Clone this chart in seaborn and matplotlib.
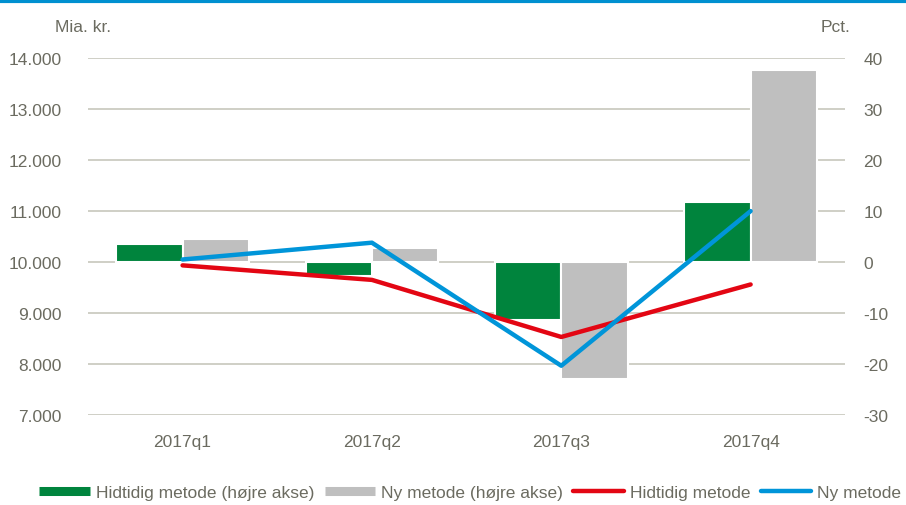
import pandas as pd
import seaborn as sns
import matplotlib.pyplot as plt
from matplotlib.lines import Line2D
from matplotlib.ticker import FuncFormatter

# data
quarters = ['2017q1', '2017q2', '2017q3', '2017q4']
bar_old = [3.6, -2.7, -11.4, 11.8]       # Hidtidig metode (højre akse), pct.
bar_new = [4.6, 2.7, -22.9, 37.6]        # Ny metode (højre akse), pct.
line_old = [9935, 9650, 8530, 9560]      # Hidtidig metode, mia. kr.
line_new = [10050, 10380, 7965, 11000]   # Ny metode, mia. kr.

green = '#00843d'
grey = '#bfbfbf'
red = '#e30613'
blue = '#0095d9'
txt = '#6b6b60'

bars = pd.DataFrame({
    'kvartal': quarters * 2,
    'metode': ['Hidtidig metode (højre akse)'] * 4 + ['Ny metode (højre akse)'] * 4,
    'pct': bar_old + bar_new,
})
lines = pd.DataFrame({
    'kvartal': quarters * 2,
    'metode': ['Hidtidig metode'] * 4 + ['Ny metode'] * 4,
    'mia': line_old + line_new,
})

sns.set_style('white')
plt.rcParams['font.family'] = ['Liberation Sans', 'DejaVu Sans']
plt.rcParams['font.size'] = 12.5
plt.rcParams['axes.unicode_minus'] = False

fig = plt.figure(figsize=(9.06, 5.06), dpi=100)
ax = fig.add_axes([0.097, 0.178, 0.836, 0.705])
ax2 = ax.twinx()

# bars on the right axis, drawn underneath the lines
sns.barplot(data=bars, x='kvartal', y='pct', hue='metode', ax=ax2,
            palette=[green, grey], saturation=1, width=0.7,
            edgecolor='white', linewidth=1.5, legend=False)
ax2.set_ylim(-30, 40)
ax2.set_yticks(range(-30, 41, 10))
ax2.yaxis.grid(True, color='#cfcfc6', linewidth=1.4)
ax2.set_axisbelow(True)

sns.lineplot(data=lines, x='kvartal', y='mia', hue='metode', ax=ax,
             palette=[red, blue], linewidth=3.2, errorbar=None, legend=False)
ax.set_ylim(7000, 14000)
ax.set_yticks(range(7000, 14001, 1000))
ax.yaxis.set_major_formatter(FuncFormatter(lambda v, p: f'{v:,.0f}'.replace(',', '.')))
ax.set_xlim(-0.5, 3.5)
ax.set_zorder(ax2.get_zorder() + 1)
ax.patch.set_visible(False)

for a in (ax, ax2):
    for s in a.spines.values():
        s.set_visible(False)
    a.tick_params(length=0, colors=txt, labelsize=12.5)
    a.set_xlabel('')
    a.set_ylabel('')
ax.tick_params(axis='y', pad=19)
ax2.tick_params(axis='y', pad=13)
ax.tick_params(axis='x', pad=14)

fig.text(0.061, 0.945, 'Mia. kr.', color=txt, fontsize=12.5, va='center')
fig.text(0.906, 0.945, 'Pct.', color=txt, fontsize=12.5, va='center')

# blue rule along the top edge
fig.add_artist(Line2D([0, 1], [0.997, 0.997], color='#0090d0', linewidth=3,
                      transform=fig.transFigure))

handles = [
    Line2D([], [], color=green, linewidth=6.5, solid_capstyle='butt'),
    Line2D([], [], color=grey, linewidth=6.5, solid_capstyle='butt'),
    Line2D([], [], color=red, linewidth=3.2, solid_capstyle='round'),
    Line2D([], [], color=blue, linewidth=3.2, solid_capstyle='round'),
]
labels = ['Hidtidig metode (højre akse)', 'Ny metode (højre akse)',
          'Hidtidig metode', 'Ny metode']
leg = fig.legend(handles, labels, loc='center', bbox_to_anchor=(0.519, 0.025),
                 ncol=4, frameon=False, handlelength=2.9, handletextpad=0.35,
                 columnspacing=0.6, fontsize=12.5)
for t in leg.get_texts():
    t.set_color(txt)

fig.savefig('out.png', dpi=100)
